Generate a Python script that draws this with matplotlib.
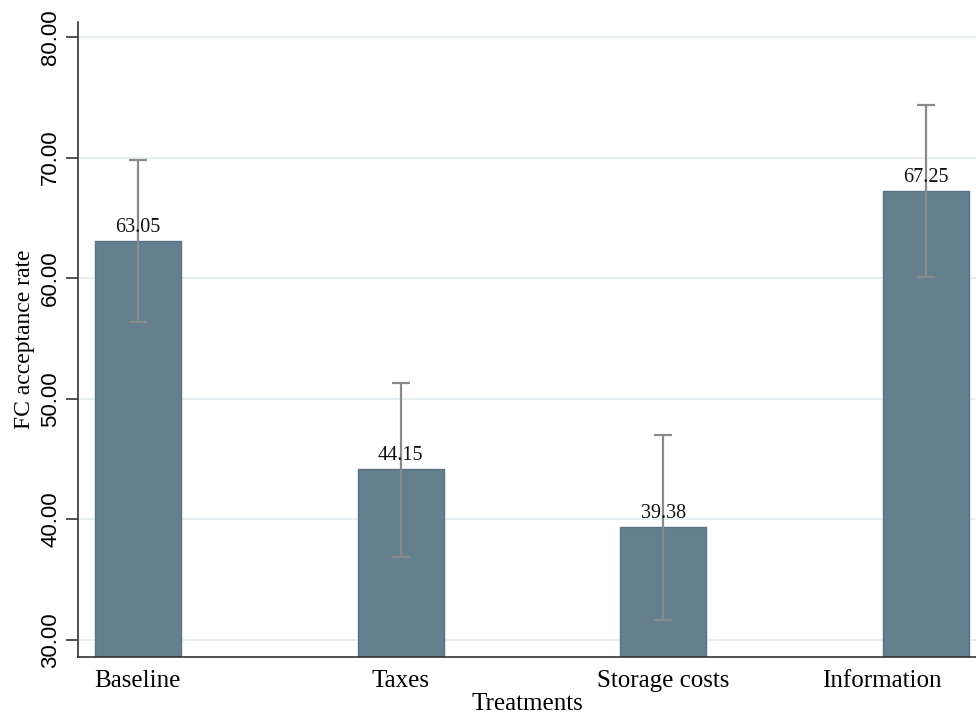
# FC acceptance rate by treatment, with 95% CIs
import matplotlib.pyplot as plt
import matplotlib.transforms as mtransforms
import numpy as np

treatments = ["Baseline", "Taxes", "Storage costs", "Information"]
rate = np.array([63.05, 44.15, 39.38, 67.25])
ci_low = np.array([56.4, 36.9, 31.7, 60.1])
ci_high = np.array([69.8, 51.3, 47.0, 74.4])

serif = ["Liberation Serif", "DejaVu Serif"]
sans = ["Liberation Sans", "DejaVu Sans"]

fig = plt.figure(figsize=(9.76, 7.14), dpi=100)
ax = fig.add_axes([0.0799, 0.0798, 0.9201, 0.8892])

x = np.arange(1, len(treatments) + 1)
ax.bar(x, rate - 28.59, bottom=28.59, width=0.327, color="#64808f",
       edgecolor="#587489", linewidth=1.0, zorder=2)
ax.errorbar(x, rate, yerr=[rate - ci_low, ci_high - rate], fmt="none",
            ecolor="#8a8a8a", elinewidth=1.6, capsize=6.5, capthick=1.6,
            zorder=3)
for xi, v in zip(x, rate):
    ax.text(xi, v + 0.35, f"{v:.2f}", ha="center", va="bottom",
            fontsize=14.5, family=serif, color="#111111", zorder=4)

ax.set_xlim(0.772, 4.19)
ax.set_ylim(28.59, 81.24)
ax.set_yticks([30, 40, 50, 60, 70, 80])
ax.set_yticklabels([f"{t:.2f}" for t in [30, 40, 50, 60, 70, 80]],
                   rotation=90, va="center", family=sans, fontsize=16)
ax.set_xticks(x)
ax.set_xticklabels(treatments, family=serif, fontsize=18)
ax.tick_params(axis="x", length=0, pad=9)
ax.tick_params(axis="y", length=9, width=1.2, color="#333333", pad=3)
ax.grid(axis="y", color="#e6eef2", linewidth=1.3, zorder=0)
ax.set_axisbelow(True)

# last label would run off the right edge, pull it back inside
last = ax.get_xticklabels()[-1]
last.set_ha("right")
last.set_transform(last.get_transform() +
                   mtransforms.ScaledTranslation(0.16, 0, fig.dpi_scale_trans))

ax.set_xlabel("Treatments", family=serif, fontsize=18, labelpad=1)
ax.set_ylabel("FC acceptance rate", family=serif, fontsize=17, labelpad=4)

for side in ["top", "right"]:
    ax.spines[side].set_visible(False)
for side in ["left", "bottom"]:
    ax.spines[side].set_color("#333333")
    ax.spines[side].set_linewidth(1.2)

fig.savefig("out.png", dpi=100)
